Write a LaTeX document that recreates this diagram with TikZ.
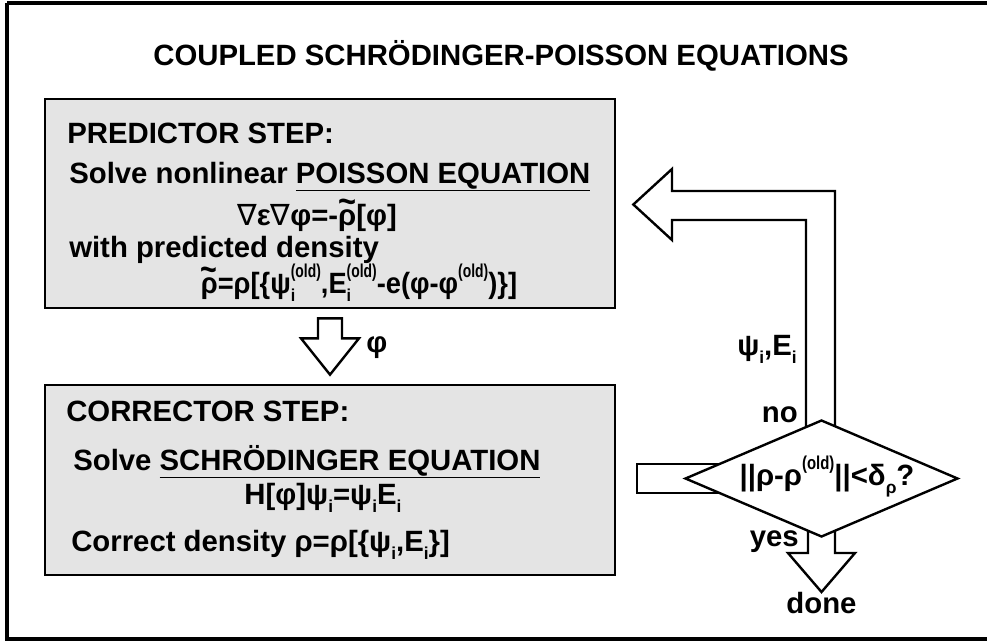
\documentclass[tikz,border=0pt]{standalone}
\usepackage{graphicx}
\usepackage{fontspec}
\setmainfont{Liberation Sans}
\newfontfamily\dejavu{DejaVu Sans}
\usetikzlibrary{shapes.geometric,calc}
\newcommand\ssz{\fontsize{14}{14}\selectfont}
\newcommand\lo[1]{\raisebox{-0.28em}{\fontsize{13}{13}\selectfont #1}}
\newcommand\hi[1]{\raisebox{0.52em}{\scalebox{0.8}[1]{\ssz #1}}}
\newcommand\lohi[2]{\makebox[0pt][l]{\lo{#1}}\hi{#2}}
\newcommand\trho{{\ooalign{ρ\cr\hidewidth\smash{\raisebox{0.38em}{\scalebox{1.05}[1.2]{\textasciitilde}}}\hidewidth\cr}}}
\newcommand\nab{{\dejavu\mdseries ∇}}
\definecolor{boxgray}{RGB}{228,228,228}
\tikzset{
  txt/.style={inner sep=0pt, font=\bfseries\fontsize{22}{26}\selectfont},
  stepbox/.style={draw, line width=2pt, fill=boxgray, inner sep=0pt,
     minimum width=427.5pt},
  blockarrow/.style={draw, line width=1.8pt, fill=white, line join=miter},
  decision/.style={diamond, draw, line width=1.8pt, fill=white, inner sep=0pt,
     minimum width=204.75pt, minimum height=87.75pt}
}
\begin{document}
\begin{tikzpicture}[x=0.75pt,y=-0.75pt]
\useasboundingbox (0,0) rectangle (987,642);
% outer frame
\draw[line width=3pt] (7,3.5) -- (995,3.5) (7,3.5) -- (7,638.5) -- (995,638.5);
% title
\node[txt, anchor=base] (title) at (501,65) {COUPLED SCHRÖDINGER-POISSON EQUATIONS};
% boxes
\node[stepbox, minimum height=156.75pt] (pred) at (330,203.5) {};
\node[stepbox, minimum height=142.5pt] (corr) at (330,480) {};
% predictor text
\node[txt, anchor=base west] (p1) at (67,143) {PREDICTOR STEP:};
\node[txt, anchor=base west] (p2) at (69,183) {Solve nonlinear \underline{POISSON EQUATION}};
\node[txt, anchor=base] (p3) at (317,225) {\nab ε\nab φ=-\trho[φ]};
\node[txt, anchor=base west] (p4) at (69,257) {with predicted density};
\node[txt, anchor=base] (p5) at (359,293) {\scalebox{0.93}[1]{\trho=ρ[\{ψ\lohi{i}{(old)},E\lohi{i}{(old)}-e(φ-φ\hi{(old)})\}]}};
% corrector text
\node[txt, anchor=base west] (c1) at (66,421) {CORRECTOR STEP:};
\node[txt, anchor=base west] (c2) at (73,470) {Solve \underline{SCHRÖDINGER EQUATION}};
\node[txt, anchor=base] (c3) at (323,504) {H[φ]ψ\lo{i}=ψ\lo{i}E\lo{i}};
\node[txt, anchor=base west] (c4) at (71,551) {Correct density ρ=ρ[\{ψ\lo{i},E\lo{i}\}]};
% arrow predictor -> corrector
\draw[blockarrow] ($(pred.south)+(-12,9)$) -- ++(24,0) -- ++(0,20) -- ++(17,0)
   -- ($(corr.north)+(0,-9)$) -- ($(pred.south)+(-29,29)$) -- ++(17,0) -- cycle;
\node[txt, anchor=base west] (philab) at (366,352) {φ};
% return arrow (no)
\draw[blockarrow] (806,440) -- (806,220) -- (672,220) -- (672,240)
   -- ($(pred.east)+(17,1)$) -- (672,169) -- (672,191) -- (835,191) -- (835,440) -- cycle;
% stub on the left of the decision
\draw[blockarrow] (760,464) -- (637,464) -- (637,493) -- (760,493);
% done arrow (yes)
\draw[blockarrow] (808,500) -- (808,553) -- (788,553) -- (821.5,592) -- (855,553)
   -- (835,553) -- (835,500);
% decision
\node[decision] (dec) at (821.5,478.5) {};
\node[txt, anchor=base] (dectext) at (827,485) {||ρ-ρ\hi{(old)}||<δ\lo{ρ}?};
% labels
\node[txt, anchor=base east] (psilab) at (797,355) {ψ\lo{i},E\lo{i}};
\node[txt, anchor=base east] (nolab) at (798,422) {no};
\node[txt, anchor=base east] (yeslab) at (799,546) {yes};
\node[txt, anchor=base] (done) at (821.5,613) {done};
\end{tikzpicture}
\end{document}
